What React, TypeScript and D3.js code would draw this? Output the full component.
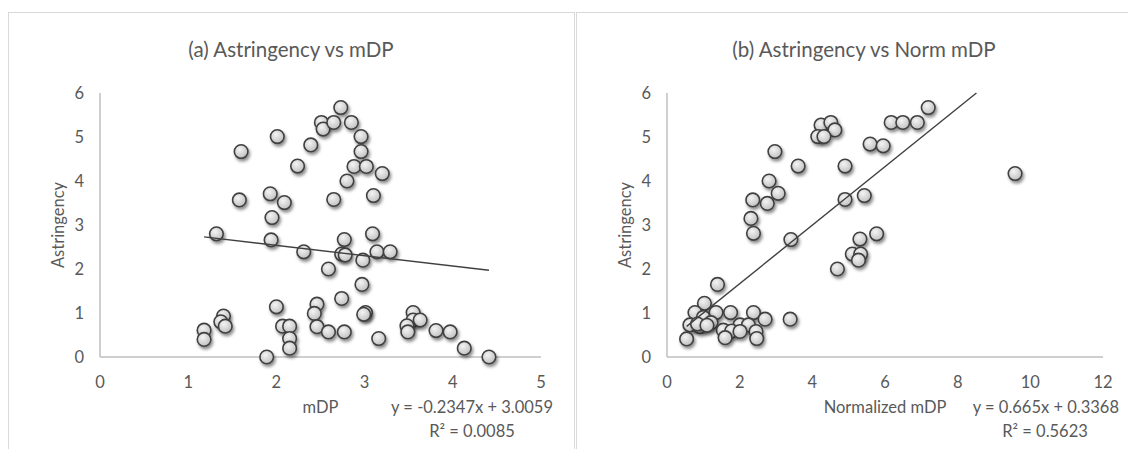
import * as d3 from "d3";

// (a) mDP vs astringency
const mdpX = [1.60, 2.01, 2.39, 2.24, 1.58, 1.93, 2.09, 1.95, 1.32, 1.94, 2.73, 2.51, 2.53, 2.65, 2.85, 2.96, 2.96, 2.88, 3.02, 3.20,
  2.80, 2.65, 3.10, 2.77, 3.09, 2.31, 2.00, 1.18, 1.18, 1.40, 1.37, 1.42, 2.07, 2.15, 2.15, 2.15, 1.89, 2.46, 2.43, 2.46,
  2.74, 2.78, 2.98, 3.14, 3.29, 2.59, 2.97, 2.74, 3.01, 2.59, 2.77, 3.16, 3.55, 3.55, 3.63, 3.48, 3.49, 3.81, 3.97, 4.13, 4.41, 2.99];
const mdpY = [4.67, 5.01, 4.82, 4.34, 3.57, 3.71, 3.51, 3.17, 2.80, 2.66, 5.67, 5.33, 5.18, 5.33, 5.33, 5.01, 4.67, 4.33, 4.33, 4.17,
  4.00, 3.58, 3.67, 2.67, 2.80, 2.39, 1.14, 0.61, 0.40, 0.93, 0.80, 0.70, 0.70, 0.70, 0.42, 0.20, 0.00, 1.20, 0.99, 0.69,
  2.34, 2.32, 2.20, 2.39, 2.39, 2.00, 1.65, 1.33, 1.01, 0.57, 0.57, 0.42, 1.01, 0.84, 0.84, 0.71, 0.57, 0.60, 0.57, 0.20, 0.00, 0.97];

// (b) normalized mDP vs astringency
const normX = [4.24, 4.51, 4.62, 4.15, 4.32, 2.97, 3.61, 4.90, 5.59, 5.95, 2.81, 2.36, 2.76, 3.06, 4.90, 5.43, 2.31, 2.38, 3.41, 5.31,
  5.77, 7.19, 6.17, 6.49, 6.89, 9.58, 5.10, 5.33, 5.27, 4.69, 1.39, 1.03, 0.77, 1.35, 1.75, 2.38, 1.00, 1.21, 0.63, 0.91,
  2.70, 3.39, 2.01, 2.24, 1.55, 1.78, 1.60, 2.45, 2.47, 2.01, 0.54, 0.84, 1.10];
const normY = [5.27, 5.33, 5.16, 5.01, 5.01, 4.67, 4.34, 4.34, 4.84, 4.80, 4.00, 3.57, 3.49, 3.72, 3.58, 3.67, 3.15, 2.81, 2.67, 2.68,
  2.80, 5.67, 5.33, 5.33, 5.33, 4.17, 2.34, 2.34, 2.20, 2.00, 1.65, 1.22, 1.01, 1.01, 1.01, 1.01, 0.90, 0.78, 0.73, 0.69,
  0.86, 0.86, 0.73, 0.73, 0.61, 0.59, 0.44, 0.58, 0.42, 0.58, 0.41, 0.75, 0.72];

const yTicks = [0, 1, 2, 3, 4, 5, 6];
const mdpTicks = [0, 1, 2, 3, 4, 5];
const normTicks = [0, 2, 4, 6, 8, 10, 12];

const fontFamily = "Lato, 'Open Sans', sans-serif";
const textColor = "#595959";
const labelSize = 16.5;

type PanelProps = {
  left: number; // panel x offset
  right: number;
  title: string;
  titleX: number;
  xLabel: string;
  xs: number[];
  ys: number[];
  xTicks: number[];
  slope: number;
  intercept: number;
  eq: string;
  r2: string;
  eqRight: number;
  r2X: number;
  plotLeft: number;
  plotRight: number;
};

function Panel(p: PanelProps) {
  const top = 93, bottom = 357;
  const x = d3.scaleLinear().domain([p.xTicks[0], p.xTicks[p.xTicks.length - 1]]).range([p.plotLeft, p.plotRight]);
  const y = d3.scaleLinear().domain([0, 6]).range([bottom, top]);

  // trendline over data range, clipped at the top of the y axis
  const x0 = d3.min(p.xs)!;
  let x1 = d3.max(p.xs)!;
  const yAt = (v: number) => p.slope * v + p.intercept;
  if (yAt(x1) > 6) x1 = (6 - p.intercept) / p.slope;
  const trend = d3.line<number>().x(v => x(v)).y(v => y(yAt(v)))([x0, x1]);

  return (
    <g fontFamily={fontFamily} fill={textColor}>
      <rect x={p.left + 0.5} y={12.5} width={p.right - p.left} height={460} fill="#fff" stroke="#d9d9d9" />
      <text x={p.titleX} y={57} textAnchor="middle" fontSize={20.5}>{p.title}</text>

      <line x1={p.plotLeft} x2={p.plotLeft} y1={top} y2={bottom} stroke="#bfbfbf" strokeWidth={1.5} />
      <line x1={p.plotLeft} x2={p.plotRight} y1={bottom} y2={bottom} stroke="#bfbfbf" strokeWidth={1.5} />

      {yTicks.map(t => (
        <text key={"y" + t} x={p.plotLeft - 16} y={y(t)} dy="0.35em" textAnchor="end" fontSize={labelSize}>{t}</text>
      ))}
      {p.xTicks.map(t => (
        <text key={"x" + t} x={x(t)} y={bottom + 31} textAnchor="middle" fontSize={labelSize}>{t}</text>
      ))}

      <text transform={`translate(${p.plotLeft - 36},${(top + bottom) / 2}) rotate(-90)`} textAnchor="middle" fontSize={labelSize}>Astringency</text>
      <text x={(p.plotLeft + p.plotRight) / 2} y={413} textAnchor="middle" fontSize={labelSize}>{p.xLabel}</text>
      <text x={p.eqRight} y={413} textAnchor="end" fontSize={labelSize}>{p.eq}</text>
      <text x={p.r2X} y={437} textAnchor="middle" fontSize={labelSize}>R² = {p.r2}</text>

      {p.xs.map((v, i) => (
        <circle key={i} cx={x(v)} cy={y(p.ys[i])} r={6.8} fill="url(#marker)" stroke="#404040" strokeWidth={1.6} filter="url(#shadow)" />
      ))}
      <path d={trend ?? ""} fill="none" stroke="#404040" strokeWidth={1.4} />
    </g>
  );
}

export default function App() {
  return (
    <svg width={1128} height={449} style={{ position: "absolute", left: 0, top: 0, background: "#fff" }}>
      <defs>
        <radialGradient id="marker" cx="40%" cy="35%" r="70%">
          <stop offset="0%" stopColor="#f4f4f4" />
          <stop offset="100%" stopColor="#bdbdbd" />
        </radialGradient>
        <filter id="shadow" x="-50%" y="-50%" width="200%" height="200%">
          <feDropShadow dx={1.5} dy={2.5} stdDeviation={1.6} floodColor="#000" floodOpacity={0.45} />
        </filter>
      </defs>
      <Panel left={8} right={574} title="(a) Astringency vs mDP" titleX={291} xLabel="mDP"
        xs={mdpX} ys={mdpY} xTicks={mdpTicks} slope={-0.2347} intercept={3.0059}
        eq="y = -0.2347x + 3.0059" r2="0.0085" eqRight={553} r2X={472} plotLeft={100} plotRight={541} />
      <Panel left={576} right={1140} title="(b) Astringency vs Norm mDP" titleX={864} xLabel="Normalized mDP"
        xs={normX} ys={normY} xTicks={normTicks} slope={0.665} intercept={0.3368}
        eq="y = 0.665x + 0.3368" r2="0.5623" eqRight={1119} r2X={1045} plotLeft={667} plotRight={1103} />
    </svg>
  );
}
